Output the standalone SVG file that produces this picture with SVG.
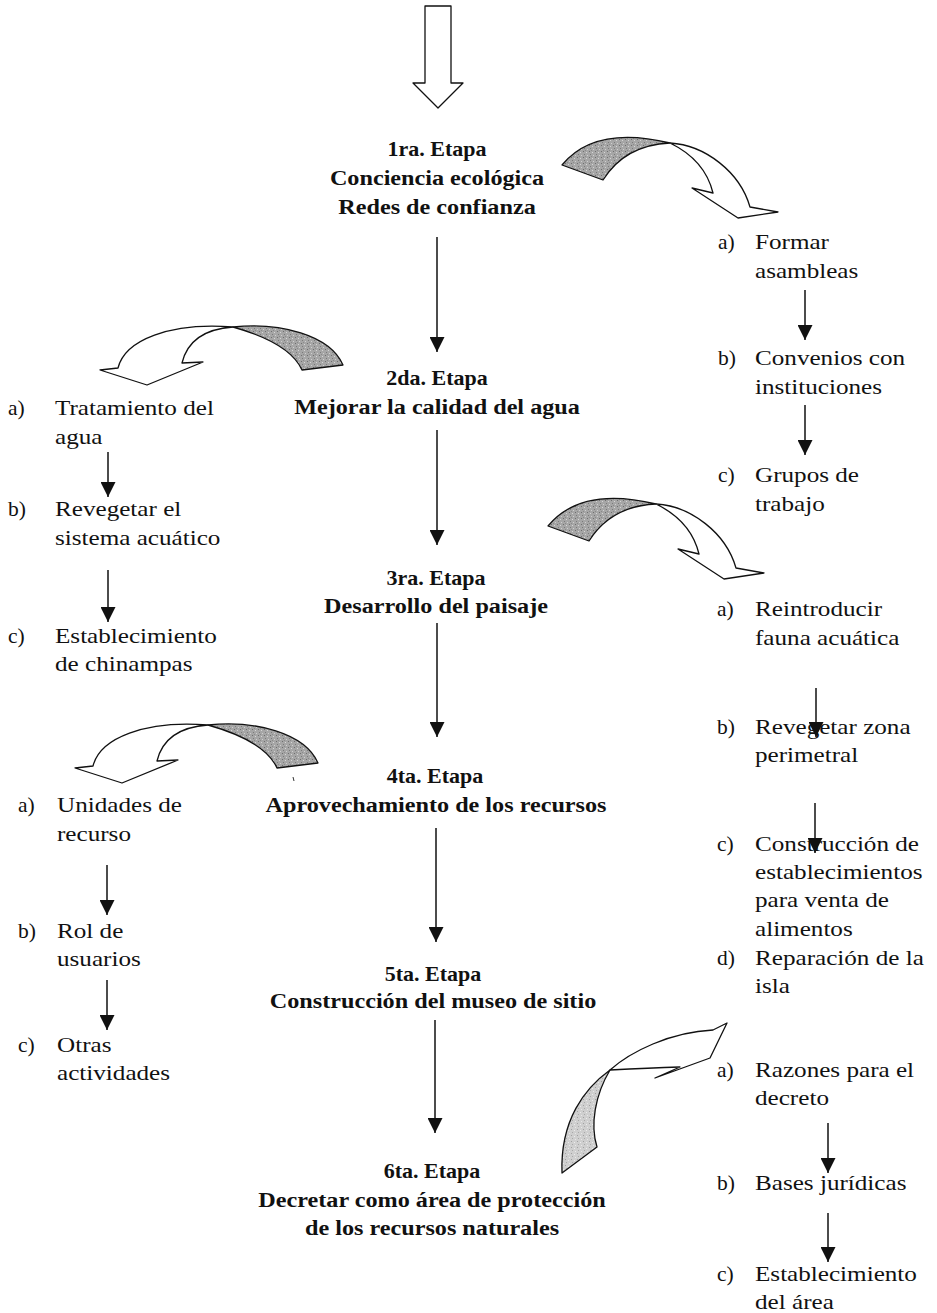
<svg xmlns="http://www.w3.org/2000/svg" xmlns:xlink="http://www.w3.org/1999/xlink" width="937" height="1313" viewBox="0 0 937 1313">
<defs>
<style>
.st{font-family:"Liberation Serif","Times New Roman",serif;font-weight:bold;font-size:22px;fill:#111;text-anchor:middle}
.it{font-family:"Liberation Serif","Times New Roman",serif;font-size:21.5px;fill:#111}
.ln{stroke:#111;stroke-width:1.5;fill:none}
.cv{stroke:#111;stroke-width:1.3;stroke-linejoin:round}
.g1{fill:url(#dk)}
.g2{fill:url(#lt)}
.wh{fill:#fff}
</style>
<pattern id="dk" width="6" height="6" patternUnits="userSpaceOnUse">
<rect width="6" height="6" fill="#a6a6a6"/>
<rect x="1" y="1" width="1" height="1" fill="#6e6e6e"/>
<rect x="4" y="2" width="1" height="1" fill="#d6d6d6"/>
<rect x="2" y="4" width="1" height="1" fill="#7a7a7a"/>
<rect x="5" y="5" width="1" height="1" fill="#cfcfcf"/>
<rect x="3" y="0" width="1" height="1" fill="#8a8a8a"/>
</pattern>
<pattern id="lt" width="6" height="6" patternUnits="userSpaceOnUse">
<rect width="6" height="6" fill="#cfcfcf"/>
<rect x="1" y="1" width="1" height="1" fill="#a0a0a0"/>
<rect x="4" y="2" width="1" height="1" fill="#ececec"/>
<rect x="2" y="4" width="1" height="1" fill="#a8a8a8"/>
<rect x="5" y="5" width="1" height="1" fill="#e8e8e8"/>
</pattern>
<marker id="ah" viewBox="0 0 15 15" refX="15" refY="7.5" markerWidth="15" markerHeight="15" markerUnits="userSpaceOnUse" orient="auto">
<path d="M0,0 L15,7.5 L0,15 Z" fill="#111"/>
</marker>
<g id="curveR">
<path class="cv g1" d="M562,165 Q595,125 670,143 Q625,145 603,180 Z"/>
<path class="cv wh" d="M670,143 C705,145 740,172 750,207 L778,212 L738,218 L692,188 L713,193 Q705,160 670,143 Z"/>
</g>
<g id="curveL">
<path class="cv g1" d="M233,327 C280,322 330,335 343,365 L302,370 Q290,343 233,327 Z"/>
<path class="cv wh" d="M233,327 C170,322 125,340 118,368 L100,370 L147,385 L203,362 L182,363 Q190,330 233,327 Z"/>
</g>
</defs>
<rect width="937" height="1313" fill="#fff"/>

<g id="connectors">
<polygon class="cv wh" points="425,6 451,6 451,83 463,83 438,108 413,83 425,83"/>
<line class="ln" x1="437" y1="237" x2="437" y2="352" marker-end="url(#ah)"/>
<line class="ln" x1="437" y1="430" x2="437" y2="545" marker-end="url(#ah)"/>
<line class="ln" x1="437" y1="623" x2="437" y2="737" marker-end="url(#ah)"/>
<line class="ln" x1="436" y1="828" x2="436" y2="942" marker-end="url(#ah)"/>
<line class="ln" x1="435" y1="1020" x2="435" y2="1133" marker-end="url(#ah)"/>
<line class="ln" x1="805" y1="290" x2="805" y2="340" marker-end="url(#ah)"/>
<line class="ln" x1="805" y1="405" x2="805" y2="455" marker-end="url(#ah)"/>
<line class="ln" x1="108" y1="452" x2="108" y2="497" marker-end="url(#ah)"/>
<line class="ln" x1="108" y1="570" x2="108" y2="622" marker-end="url(#ah)"/>
<line class="ln" x1="107" y1="865" x2="107" y2="915" marker-end="url(#ah)"/>
<line class="ln" x1="107" y1="980" x2="107" y2="1030" marker-end="url(#ah)"/>
<line class="ln" x1="816" y1="688" x2="816" y2="737" marker-end="url(#ah)"/>
<line class="ln" x1="815" y1="803" x2="815" y2="853" marker-end="url(#ah)"/>
<line class="ln" x1="828" y1="1123" x2="828" y2="1173" marker-end="url(#ah)"/>
<line class="ln" x1="828" y1="1213" x2="828" y2="1262" marker-end="url(#ah)"/>
<use xlink:href="#curveR" href="#curveR"/>
<use xlink:href="#curveL" href="#curveL"/>
<use xlink:href="#curveR" href="#curveR" transform="translate(-14 361)"/>
<use xlink:href="#curveL" href="#curveL" transform="translate(-25 398)"/>
<path class="cv g2" d="M610,1070 C585,1088 560,1120 562,1173 L597,1147 C590,1125 595,1095 610,1070 Z"/>
<path class="cv wh" d="M610,1070 C630,1052 670,1032 713,1030 L727,1023 L710,1058 L655,1078 L680,1067 Q650,1068 610,1070 Z"/>
<line x1="293" y1="777" x2="294" y2="781" stroke="#333" stroke-width="1"/>
</g>

<g id="stage1">
<text class="st" x="437" y="156">1ra. Etapa</text>
<g transform="translate(437 0) scale(1.1 1)">
<text class="st" x="0" y="185">Conciencia ecológica</text>
<text class="st" x="0" y="214">Redes de confianza</text>
</g>
</g>
<g id="stage2">
<text class="st" x="437" y="385">2da. Etapa</text>
<g transform="translate(437 0) scale(1.1 1)"><text class="st" x="0" y="414">Mejorar la calidad del agua</text></g>
</g>
<g id="stage3">
<text class="st" x="436" y="585">3ra. Etapa</text>
<g transform="translate(436 0) scale(1.1 1)"><text class="st" x="0" y="613">Desarrollo del paisaje</text></g>
</g>
<g id="stage4">
<text class="st" x="435" y="783">4ta. Etapa</text>
<g transform="translate(436 0) scale(1.1 1)"><text class="st" x="0" y="812">Aprovechamiento de los recursos</text></g>
</g>
<g id="stage5">
<text class="st" x="433" y="981">5ta. Etapa</text>
<g transform="translate(433 0) scale(1.1 1)"><text class="st" x="0" y="1008">Construcción del museo de sitio</text></g>
</g>
<g id="stage6">
<text class="st" x="432" y="1178">6ta. Etapa</text>
<g transform="translate(432 0) scale(1.1 1)">
<text class="st" x="0" y="1207">Decretar como área de protección</text>
<text class="st" x="0" y="1235">de los recursos naturales</text>
</g>
</g>

<g id="r1a"><text class="it" x="718" y="249">a)</text><g transform="translate(755 0) scale(1.17 1)"><text class="it" x="0" y="249">Formar</text><text class="it" x="0" y="278">asambleas</text></g></g>
<g id="r1b"><text class="it" x="718" y="365">b)</text><g transform="translate(755 0) scale(1.17 1)"><text class="it" x="0" y="365">Convenios con</text><text class="it" x="0" y="394">instituciones</text></g></g>
<g id="r1c"><text class="it" x="718" y="482">c)</text><g transform="translate(755 0) scale(1.17 1)"><text class="it" x="0" y="482">Grupos de</text><text class="it" x="0" y="511">trabajo</text></g></g>

<g id="l1a"><text class="it" x="8" y="415">a)</text><g transform="translate(55 0) scale(1.17 1)"><text class="it" x="0" y="415">Tratamiento del</text><text class="it" x="0" y="444">agua</text></g></g>
<g id="l1b"><text class="it" x="8" y="516">b)</text><g transform="translate(55 0) scale(1.17 1)"><text class="it" x="0" y="516">Revegetar el</text><text class="it" x="0" y="545">sistema acuático</text></g></g>
<g id="l1c"><text class="it" x="8" y="643">c)</text><g transform="translate(55 0) scale(1.17 1)"><text class="it" x="0" y="643">Establecimiento</text><text class="it" x="0" y="671">de chinampas</text></g></g>

<g id="l2a"><text class="it" x="18" y="812">a)</text><g transform="translate(57 0) scale(1.17 1)"><text class="it" x="0" y="812">Unidades de</text><text class="it" x="0" y="841">recurso</text></g></g>
<g id="l2b"><text class="it" x="18" y="938">b)</text><g transform="translate(57 0) scale(1.17 1)"><text class="it" x="0" y="938">Rol de</text><text class="it" x="0" y="966">usuarios</text></g></g>
<g id="l2c"><text class="it" x="18" y="1052">c)</text><g transform="translate(57 0) scale(1.17 1)"><text class="it" x="0" y="1052">Otras</text><text class="it" x="0" y="1080">actividades</text></g></g>

<g id="r2a"><text class="it" x="717" y="616">a)</text><g transform="translate(755 0) scale(1.17 1)"><text class="it" x="0" y="616">Reintroducir</text><text class="it" x="0" y="645">fauna acuática</text></g></g>
<g id="r2b"><text class="it" x="717" y="734">b)</text><g transform="translate(755 0) scale(1.17 1)"><text class="it" x="0" y="734">Revegetar zona</text><text class="it" x="0" y="762">perimetral</text></g></g>
<g id="r2c"><text class="it" x="717" y="851">c)</text><g transform="translate(755 0) scale(1.17 1)"><text class="it" x="0" y="851">Construcción de</text><text class="it" x="0" y="879">establecimientos</text><text class="it" x="0" y="907">para venta de</text><text class="it" x="0" y="936">alimentos</text></g></g>
<g id="r2d"><text class="it" x="717" y="965">d)</text><g transform="translate(755 0) scale(1.17 1)"><text class="it" x="0" y="965">Reparación de la</text><text class="it" x="0" y="993">isla</text></g></g>

<g id="r3a"><text class="it" x="717" y="1077">a)</text><g transform="translate(755 0) scale(1.17 1)"><text class="it" x="0" y="1077">Razones para el</text><text class="it" x="0" y="1105">decreto</text></g></g>
<g id="r3b"><text class="it" x="717" y="1190">b)</text><g transform="translate(755 0) scale(1.17 1)"><text class="it" x="0" y="1190">Bases jurídicas</text></g></g>
<g id="r3c"><text class="it" x="717" y="1281">c)</text><g transform="translate(755 0) scale(1.17 1)"><text class="it" x="0" y="1281">Establecimiento</text><text class="it" x="0" y="1309">del área</text></g></g>
</svg>
